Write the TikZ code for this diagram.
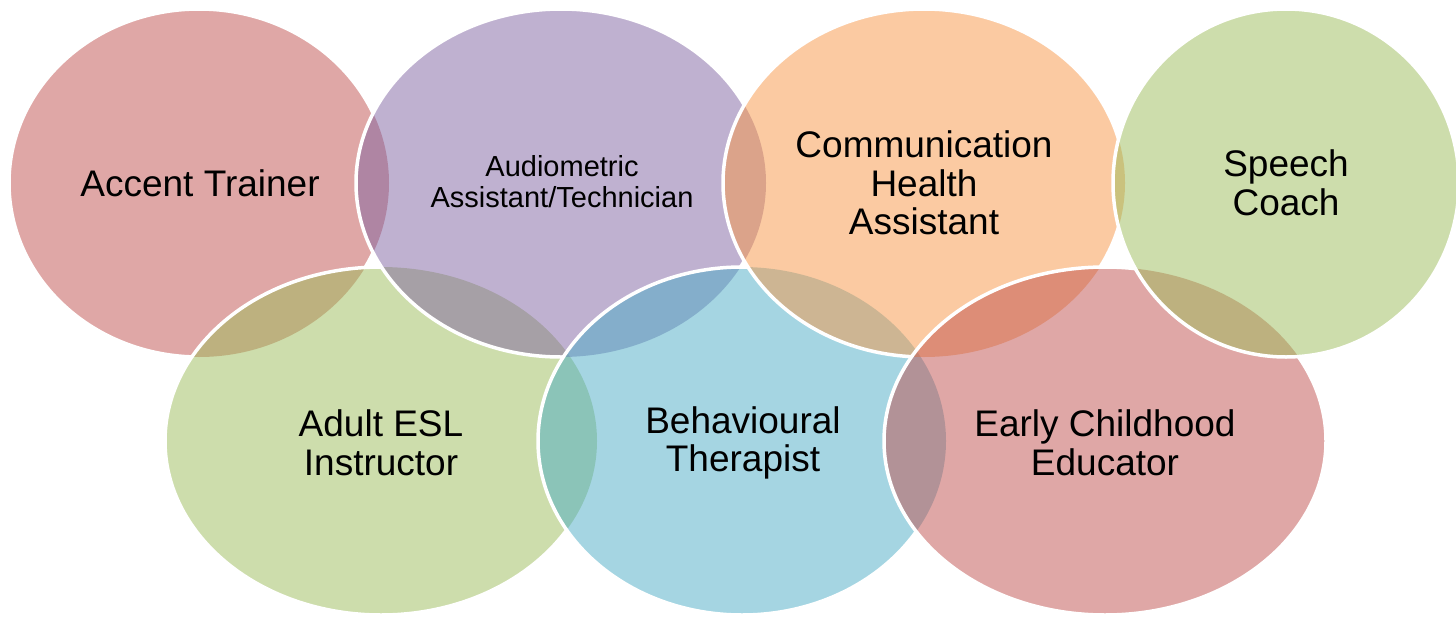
\documentclass[tikz,border=0pt]{standalone}
\usepackage{fontspec}
\setmainfont{Liberation Sans}
\definecolor{cred}{HTML}{C0504D}
\definecolor{cpurple}{HTML}{8064A2}
\definecolor{corange}{HTML}{F79646}
\definecolor{cgreen}{HTML}{9BBB59}
\definecolor{cblue}{HTML}{4BACC6}
% ellipse data: centre x, centre y, x radius
\newcommand\ringA{(199,183) ellipse [x radius=190pt, y radius=174pt]}
\newcommand\ringB{(561,183) ellipse [x radius=205pt, y radius=174pt]}
\newcommand\ringC{(924,183) ellipse [x radius=201pt, y radius=174pt]}
\newcommand\ringD{(1286,183) ellipse [x radius=173pt, y radius=174pt]}
\newcommand\ringE{(381,441) ellipse [x radius=216pt, y radius=174pt]}
\newcommand\ringF{(742,441) ellipse [x radius=204pt, y radius=174pt]}
\newcommand\ringG{(1105,441) ellipse [x radius=221pt, y radius=174pt]}
\newcommand\outsideof[3]{\clip (-50,-50) rectangle (1510,670) (#1,#2) ellipse [x radius=#3pt, y radius=174pt];}
\begin{document}
\begin{tikzpicture}[x=1pt,y=-1pt,
  ringfill/.style={fill=#1, fill opacity=0.5, draw=none},
  ringline/.style={draw=white, line width=3.5pt},
  bigtext/.style={align=center, font=\fontsize{37}{38.5}\selectfont, text=black},
  smalltext/.style={align=center, font=\fontsize{29}{31}\selectfont, text=black}]
\useasboundingbox (0,0) rectangle (1456,616);
% order bottom to top: A, E, B, F, C, G, D
% A
\fill[ringfill=cred] (199,183) ellipse [x radius=190pt, y radius=174pt];
\begin{scope}[even odd rule]
\outsideof{381}{441}{216}\outsideof{561}{183}{205}\outsideof{742}{441}{204}
\outsideof{924}{183}{201}\outsideof{1105}{441}{221}\outsideof{1286}{183}{173}
\draw[ringline] (199,183) ellipse [x radius=190pt, y radius=174pt];
\end{scope}
% E
\fill[ringfill=cgreen] (381,441) ellipse [x radius=216pt, y radius=174pt];
\begin{scope}[even odd rule]
\outsideof{561}{183}{205}\outsideof{742}{441}{204}
\outsideof{924}{183}{201}\outsideof{1105}{441}{221}\outsideof{1286}{183}{173}
\draw[ringline] (381,441) ellipse [x radius=216pt, y radius=174pt];
\end{scope}
% B
\fill[ringfill=cpurple] (561,183) ellipse [x radius=205pt, y radius=174pt];
\begin{scope}[even odd rule]
\outsideof{742}{441}{204}
\outsideof{924}{183}{201}\outsideof{1105}{441}{221}\outsideof{1286}{183}{173}
\draw[ringline] (561,183) ellipse [x radius=205pt, y radius=174pt];
\end{scope}
% F
\fill[ringfill=cblue] (742,441) ellipse [x radius=204pt, y radius=174pt];
\begin{scope}[even odd rule]
\outsideof{924}{183}{201}\outsideof{1105}{441}{221}\outsideof{1286}{183}{173}
\draw[ringline] (742,441) ellipse [x radius=204pt, y radius=174pt];
\end{scope}
% C
\fill[ringfill=corange] (924,183) ellipse [x radius=201pt, y radius=174pt];
\begin{scope}[even odd rule]
\outsideof{1105}{441}{221}\outsideof{1286}{183}{173}
\draw[ringline] (924,183) ellipse [x radius=201pt, y radius=174pt];
\end{scope}
% G
\fill[ringfill=cred] (1105,441) ellipse [x radius=221pt, y radius=174pt];
\begin{scope}[even odd rule]
\outsideof{1286}{183}{173}
\draw[ringline] (1105,441) ellipse [x radius=221pt, y radius=174pt];
\end{scope}
% D
\fill[ringfill=cgreen] (1286,183) ellipse [x radius=173pt, y radius=174pt];
\draw[ringline] (1286,183) ellipse [x radius=173pt, y radius=174pt];
% texts
\node[bigtext] (accent) at (200,183) {Accent Trainer};
\node[smalltext] (audio) at (562,182) {Audiometric\\Assistant/Technician};
\node[bigtext] (comm) at (924,183) {Communication\\Health\\Assistant};
\node[bigtext] (speech) at (1286,183) {Speech\\Coach};
\node[bigtext] (esl) at (381,443) {Adult ESL\\Instructor};
\node[bigtext] (behav) at (743,443) {Behavioural\\Therapist};
\node[bigtext] (early) at (1105,443) {Early Childhood\\Educator};
\end{tikzpicture}
\end{document}
